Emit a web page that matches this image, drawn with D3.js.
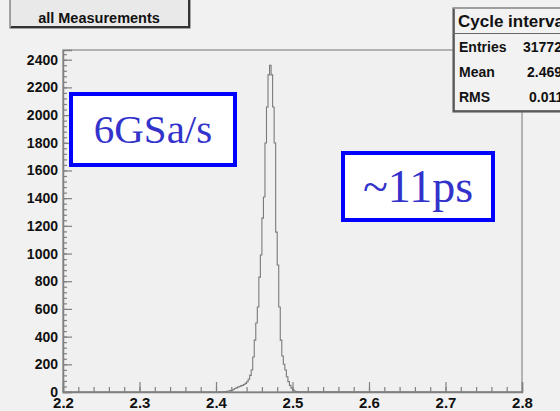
<!DOCTYPE html>
<html lang="en">
<head>
  <meta charset="UTF-8">
  <title>Cycle interval</title>
  <script src="https://d3js.org/d3.v7.min.js"></script>
  <style>
    body { margin: 0; background: #f1f1f1; }
    svg { display: block; font-family: "Liberation Sans", Arial, sans-serif; }
  </style>
</head>
<body>
<script>
  // histogram: bins of 0.002 starting at 2.400
  const binStart = 2.400;
  const binWidth = 0.002;
  const counts = [
    0, 0, 1, 0, 1, 2, 3, 5, 7, 10,
    13, 18, 25, 30, 35, 40, 44, 48, 54, 62,
    74, 92, 120, 159, 253, 375, 498, 614, 830, 989,
    1256, 1408, 1798, 2058, 2290, 2360, 2290, 2058, 1798, 1155,
    917, 614, 375, 260, 200, 159, 110, 75, 48, 28,
    15, 7, 3, 1, 1
  ];
  const xTicks = [2.2, 2.3, 2.4, 2.5, 2.6, 2.7, 2.8];
  const yTicks = [0, 200, 400, 600, 800, 1000, 1200, 1400, 1600, 1800, 2000, 2200, 2400];
  const statNames = ["Entries", "Mean", "RMS"];
  const statValues = ["31772", "2.469", "0.011"];

  const W = 560, H = 411;
  const plotLeft = 63, plotRight = 522, plotTop = 50, plotBottom = 392;

  const svg = d3.select("body").append("svg")
    .attr("width", W).attr("height", H);

  svg.append("rect").attr("width", W).attr("height", H).attr("fill", "#f1f1f1");

  const x = d3.scaleLinear().domain([2.2, 2.8]).range([plotLeft, plotRight]);
  const y = d3.scaleLinear().domain([0, 2470]).range([plotBottom, plotTop]);

  // frame
  svg.append("rect")
    .attr("x", plotLeft).attr("y", plotTop)
    .attr("width", plotRight - plotLeft).attr("height", plotBottom - plotTop)
    .attr("fill", "#f0f0f0").attr("stroke", "#8a8a8a").attr("stroke-width", 1.2);

  // histogram outline
  const pts = [[x(2.2), y(0)]];
  counts.forEach((c, i) => {
    const x0 = binStart + i * binWidth;
    pts.push([x(x0), y(c)]);
    pts.push([x(x0 + binWidth), y(c)]);
  });
  pts.push([x(2.8), y(0)]);
  svg.append("path")
    .attr("d", d3.line()(pts))
    .attr("fill", "none").attr("stroke", "#7a7a7a").attr("stroke-width", 1.1);

  // y axis
  const yAxis = svg.append("g").attr("transform", `translate(${plotLeft},0)`)
    .call(d3.axisLeft(y).tickValues(yTicks).tickSize(-9).tickPadding(5).tickFormat(d3.format("d")));
  svg.append("g").attr("transform", `translate(${plotLeft},0)`)
    .call(d3.axisLeft(y).tickValues(d3.range(0, 2441, 40)).tickSize(-4).tickFormat(""))
    .call(g => g.select(".domain").remove());

  // x axis
  const xAxis = svg.append("g").attr("transform", `translate(0,${plotBottom})`)
    .call(d3.axisBottom(x).tickValues(xTicks).tickSize(-10).tickPadding(5).tickFormat(d3.format(".1f")));
  svg.append("g").attr("transform", `translate(0,${plotBottom})`)
    .call(d3.axisBottom(x).tickValues(d3.range(2.2, 2.8001, 0.02)).tickSize(-5).tickFormat(""))
    .call(g => g.select(".domain").remove());

  svg.selectAll(".tick line").attr("stroke", "#808080").attr("stroke-width", 1.2);
  svg.selectAll(".domain").attr("stroke", "#808080").attr("stroke-width", 1.5);
  yAxis.selectAll("text").attr("font-size", 14).attr("font-weight", "bold").attr("fill", "#111");
  xAxis.selectAll("text").attr("font-size", 15).attr("font-weight", "bold").attr("fill", "#111");

  // "all Measurements" button
  svg.append("rect").attr("x", 10).attr("y", -3).attr("width", 180).attr("height", 31)
    .attr("fill", "#e9e9e9").attr("stroke", "#555").attr("stroke-width", 1);
  svg.append("path").attr("d", "M11,27 H189 V-3").attr("fill", "none").attr("stroke", "#333").attr("stroke-width", 2);
  svg.append("text").attr("x", 99).attr("y", 23).attr("text-anchor", "middle")
    .attr("font-size", 14.5).attr("font-weight", "bold").attr("fill", "#111")
    .text("all Measurements");

  // stats box
  const sb = svg.append("g");
  sb.append("rect").attr("x", 453).attr("y", 8).attr("width", 130).attr("height", 104)
    .attr("fill", "#f2f2f2").attr("stroke", "#666").attr("stroke-width", 1.2);
  sb.append("path").attr("d", "M454,9 V111 H560").attr("fill", "none").attr("stroke", "#444").attr("stroke-width", 1.5);
  sb.append("line").attr("x1", 453).attr("x2", 560).attr("y1", 33.5).attr("y2", 33.5)
    .attr("stroke", "#666").attr("stroke-width", 1.2);
  sb.append("text").attr("x", 458).attr("y", 27).attr("font-size", 17).attr("font-weight", "bold")
    .attr("fill", "#111").text("Cycle interval");
  const rowY = [52, 77, 102];
  const valX = [523, 527, 529];
  statNames.forEach((n, i) => {
    sb.append("text").attr("x", 459).attr("y", rowY[i]).attr("font-size", 14)
      .attr("font-weight", "bold").attr("fill", "#111").text(n);
    sb.append("text").attr("x", valX[i]).attr("y", rowY[i]).attr("font-size", 14)
      .attr("font-weight", "bold").attr("fill", "#111").text(statValues[i]);
  });

  // blue annotation boxes
  const notes = [
    { text: "6GSa/s", x: 69, y: 92, w: 168, h: 75, size: 41 },
    { text: "~11ps", x: 341, y: 151, w: 154, h: 71, size: 46 }
  ];
  notes.forEach(n => {
    svg.append("rect").attr("x", n.x + 2).attr("y", n.y + 2)
      .attr("width", n.w - 4).attr("height", n.h - 4)
      .attr("fill", "#ffffff").attr("stroke", "#0000ff").attr("stroke-width", 4);
    svg.append("text").attr("x", n.x + n.w / 2).attr("y", n.y + n.h / 2 + 0.34 * n.size)
      .attr("text-anchor", "middle")
      .attr("font-family", "'Liberation Serif', 'Times New Roman', serif")
      .attr("font-size", n.size).attr("fill", "#3333cc")
      .text(n.text);
  });
</script>
</body>
</html>
